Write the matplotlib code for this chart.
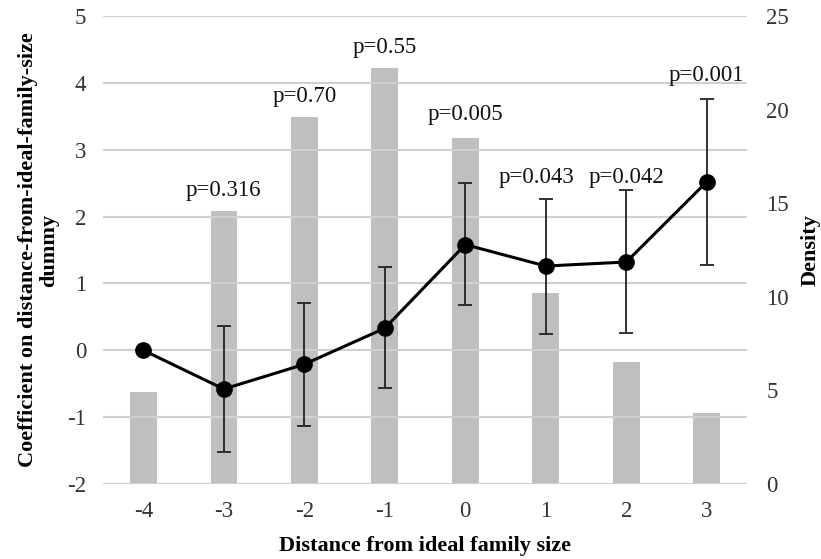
import matplotlib
matplotlib.use("Agg")
import matplotlib.pyplot as plt
import numpy as np

categories = ["-4", "-3", "-2", "-1", "0", "1", "2", "3"]
density = [4.9, 14.6, 19.6, 22.2, 18.5, 10.2, 6.5, 3.8]
coef = [0.0, -0.58, -0.21, 0.33, 1.58, 1.26, 1.32, 2.52]
ci_upper = [0.0, 0.37, 0.70, 1.24, 2.50, 2.26, 2.39, 3.76]
ci_lower = [0.0, -1.52, -1.14, -0.57, 0.67, 0.24, 0.26, 1.27]
p_labels = ["", "p=0.316", "p=0.70", "p=0.55", "p=0.005", "p=0.043", "p=0.042", "p=0.001"]
p_label_y = [None, 2.39, 3.8, 4.53, 3.52, 2.59, 2.59, 4.11]
p_label_dx = [0, 0, 0, 0, 0, -0.11, 0, 0]

plt.rcParams['font.family'] = ['Liberation Serif', 'DejaVu Serif']
plt.rcParams['axes.unicode_minus'] = False

fig = plt.figure(figsize=(8.21, 5.59), dpi=100)
ax = fig.add_axes([0.1255, 0.1342, 0.7844, 0.8372])
ax2 = ax.twinx()

x = np.arange(len(categories))

ax.set_ylim(-2, 5)
ax.set_yticks(range(-2, 6))
ax.grid(axis='y', color='#d0d0d0', linewidth=1.5)
ax.set_axisbelow(True)

ax2.bar(x, density, width=0.33, color='#bfbfbf', zorder=1)
ax2.set_ylim(0, 25)
ax2.set_yticks(range(0, 26, 5))

ax.set_zorder(ax2.get_zorder() + 1)
ax.patch.set_visible(False)

coef_a = np.array(coef)
lo = np.array(ci_lower)
hi = np.array(ci_upper)
has_err = hi != lo
ax.errorbar(x[has_err], coef_a[has_err],
            yerr=[(coef_a - lo)[has_err], (hi - coef_a)[has_err]],
            fmt='none', ecolor='#222222', elinewidth=1.3, capsize=5, capthick=1.3, zorder=3)
ax.plot(x, coef, color='black', linewidth=2.2, marker='o', markersize=11, zorder=4)

for xi, lab, ly, dx in zip(x, p_labels, p_label_y, p_label_dx):
    if lab:
        ax.text(xi + dx, ly, lab, ha='center', va='center', fontsize=16.5, color='#111111')

ax.set_xlim(-0.5, len(categories) - 0.5)
ax.set_xticks(x)
ax.set_xticklabels(categories)

for a in (ax, ax2):
    for s in a.spines.values():
        s.set_visible(False)
    a.tick_params(length=0, labelsize=16.5, colors='#333333')
ax.tick_params(axis='x', pad=12)
ax.tick_params(axis='y', pad=12)
ax2.tick_params(axis='y', pad=14)

ax.set_xlabel("Distance from ideal family size", fontsize=16, fontweight='bold', labelpad=10)
ax.set_ylabel("Coefficient on distance-from-ideal-family-size\ndummy", fontsize=16,
              fontweight='bold', labelpad=6, linespacing=1.05)
ax2.set_ylabel("Density", fontsize=16, fontweight='bold', labelpad=8)

fig.savefig("out.png", dpi=100)
